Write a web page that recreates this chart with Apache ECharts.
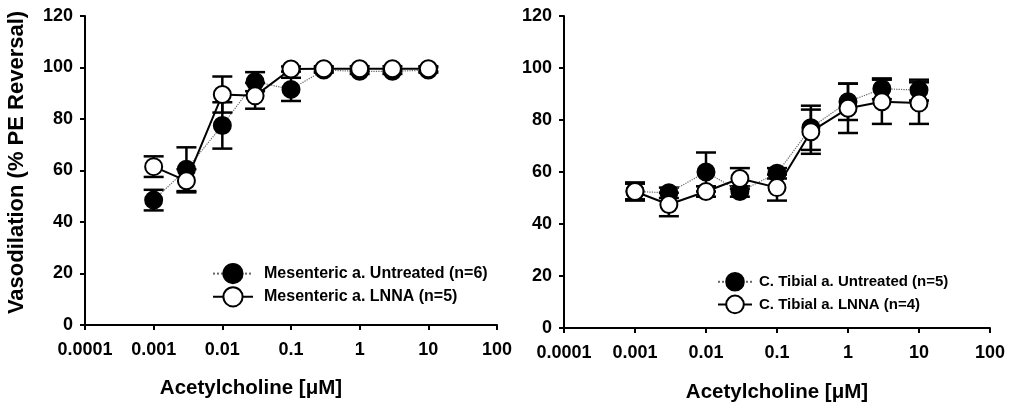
<!DOCTYPE html>
<html>
<head>
<meta charset="utf-8">
<title>Acetylcholine vasodilation</title>
<script src="https://cdn.jsdelivr.net/npm/echarts@6/dist/echarts.min.js"></script>
<style>
    html, body { margin: 0; padding: 0; background: #fff; }
    #chart { width: 1010px; height: 405px; }
</style>
</head>
<body>
<div id="chart"></div>
<script>
// concentrations (uM)
var conc = [0.001, 0.003, 0.01, 0.03, 0.1, 0.3, 1, 3, 10];
var xTickLabels = ["0.0001", "0.001", "0.01", "0.1", "1", "10", "100"];

// mesenteric artery
var mesUntreated = [48.5, 60.5, 77.5, 94.5, 91.5, 99, 98.5, 98.5, 99];
var mesUntreatedSem = [4, 8.5, 9, 3.7, 4.5, 1, 1, 1, 1];
var mesLnna = [61.5, 56, 89.5, 89, 99.4, 99.5, 99.5, 99.5, 99.5];
var mesLnnaSem = [4, 4.5, 7, 5, 1, 1, 1, 1, 1];

// caudal tibial artery
var tibUntreated = [52.5, 52, 60, 52.5, 59.5, 77, 87, 92, 91.5];
var tibUntreatedSem = [3, 2, 7.5, 2, 2, 8.5, 7, 4, 4];
var tibLnna = [52.5, 47.5, 52.5, 57.5, 54, 75.5, 84.5, 87, 86.5];
var tibLnnaSem = [3.5, 4.5, 2, 4, 5, 8.5, 9.5, 8.5, 8];

var font = "'Liberation Sans', Arial, sans-serif";

function pts(vals) {
    return conc.map(function (c, i) { return [c, vals[i]]; });
}
function bars(vals, sem) {
    return conc.map(function (c, i) { return [c, vals[i] - sem[i], vals[i] + sem[i]]; });
}

function errorBar(params, api) {
    var x = api.value(0);
    var lo = api.coord([x, api.value(1)]);
    var hi = api.coord([x, api.value(2)]);
    var half = 10;
    var st = { stroke: "#000", lineWidth: 2.5 };
    return {
        type: "group",
        children: [
            { type: "line", shape: { x1: lo[0], y1: lo[1], x2: hi[0], y2: hi[1] }, style: st },
            { type: "line", shape: { x1: lo[0] - half, y1: lo[1], x2: lo[0] + half, y2: lo[1] }, style: st },
            { type: "line", shape: { x1: hi[0] - half, y1: hi[1], x2: hi[0] + half, y2: hi[1] }, style: st }
        ]
    };
}

function xAxisOpt(idx, gap, shift) {
    return {
        type: "log",
        logBase: 10,
        gridIndex: idx,
        min: 0.0001,
        max: 100,
        name: "Acetylcholine [\u03bcM]",
        nameLocation: "middle",
        nameGap: gap,
        nameTextStyle: {
            fontFamily: font, fontWeight: "bold", fontSize: 20.5, color: "#000",
            padding: [0, shift, 0, 0]
        },
        axisLine: { onZero: false, lineStyle: { color: "#000", width: 2 } },
        axisTick: { show: true, length: 5, lineStyle: { color: "#000", width: 2 } },
        minorTick: { show: false },
        splitLine: { show: false },
        axisLabel: {
            margin: 16,
            fontFamily: font,
            fontWeight: "bold",
            fontSize: 18,
            color: "#000",
            formatter: function (v) {
                return xTickLabels[Math.round(Math.log10(v)) + 4];
            }
        }
    };
}

function yAxisOpt(idx, withName) {
    return {
        type: "value",
        gridIndex: idx,
        min: 0,
        max: 120,
        interval: 20,
        name: withName ? "Vasodilation (% PE Reversal)" : "",
        nameLocation: "middle",
        nameGap: 57,
        nameTextStyle: {
            fontFamily: font, fontWeight: "bold", fontSize: 22, color: "#000",
            padding: [0, 0, 0, 16]
        },
        axisLine: { show: true, lineStyle: { color: "#000", width: 2 } },
        axisTick: { show: true, length: 5, lineStyle: { color: "#000", width: 2 } },
        splitLine: { show: false },
        axisLabel: { margin: 12, fontFamily: font, fontWeight: "bold", fontSize: 18, color: "#000" }
    };
}

function lineSeries(name, idx, vals, open, z) {
    return {
        name: name,
        type: "line",
        xAxisIndex: idx,
        yAxisIndex: idx,
        data: pts(vals),
        z: z,
        symbol: "circle",
        symbolSize: 17,
        showAllSymbol: true,
        lineStyle: open
            ? { color: "#000", width: 2, type: "solid" }
            : { color: "#666", width: 1.2, type: "dotted" },
        itemStyle: { color: open ? "#fff" : "#000", borderColor: "#000", borderWidth: 2, opacity: 1 },
        emphasis: { disabled: true }
    };
}

function barSeries(idx, vals, sem, z) {
    return {
        type: "custom",
        xAxisIndex: idx,
        yAxisIndex: idx,
        data: bars(vals, sem),
        encode: { x: 0, y: [1, 2] },
        renderItem: errorBar,
        z: z,
        silent: true
    };
}

var chart = echarts.init(document.getElementById("chart"));
chart.setOption({
    animation: false,
    backgroundColor: "#fff",
    grid: [
        { left: 85, top: 16, width: 412, height: 309, outerBoundsMode: "none" },
        { left: 564, top: 16, width: 426, height: 312, outerBoundsMode: "none" }
    ],
    xAxis: [xAxisOpt(0, 53, 80), xAxisOpt(1, 54, 0)],
    yAxis: [yAxisOpt(0, true), yAxisOpt(1, false)],
    legend: [
        {
            data: ["Mesenteric a. Untreated (n=6)", "Mesenteric a. LNNA (n=5)"],
            orient: "vertical",
            left: 212,
            top: 263,
            padding: 0,
            itemWidth: 40,
            itemHeight: 24,
            itemGap: 2,
            selectedMode: false,
            textStyle: { fontFamily: font, fontWeight: "bold", fontSize: 16, color: "#000", padding: [0, 0, 0, 6] }
        },
        {
            data: ["C. Tibial a. Untreated (n=5)", "C. Tibial a. LNNA (n=4)"],
            orient: "vertical",
            left: 717,
            top: 272,
            padding: 0,
            itemWidth: 34,
            itemHeight: 22,
            itemGap: 3,
            selectedMode: false,
            textStyle: { fontFamily: font, fontWeight: "bold", fontSize: 15, color: "#000", padding: [0, 0, 0, 2] }
        }
    ],
    series: [
        barSeries(0, mesUntreated, mesUntreatedSem, 1),
        lineSeries("Mesenteric a. Untreated (n=6)", 0, mesUntreated, false, 2),
        barSeries(0, mesLnna, mesLnnaSem, 3),
        lineSeries("Mesenteric a. LNNA (n=5)", 0, mesLnna, true, 4),
        barSeries(1, tibUntreated, tibUntreatedSem, 1),
        lineSeries("C. Tibial a. Untreated (n=5)", 1, tibUntreated, false, 2),
        barSeries(1, tibLnna, tibLnnaSem, 3),
        lineSeries("C. Tibial a. LNNA (n=4)", 1, tibLnna, true, 4)
    ]
});
</script>
</body>
</html>
